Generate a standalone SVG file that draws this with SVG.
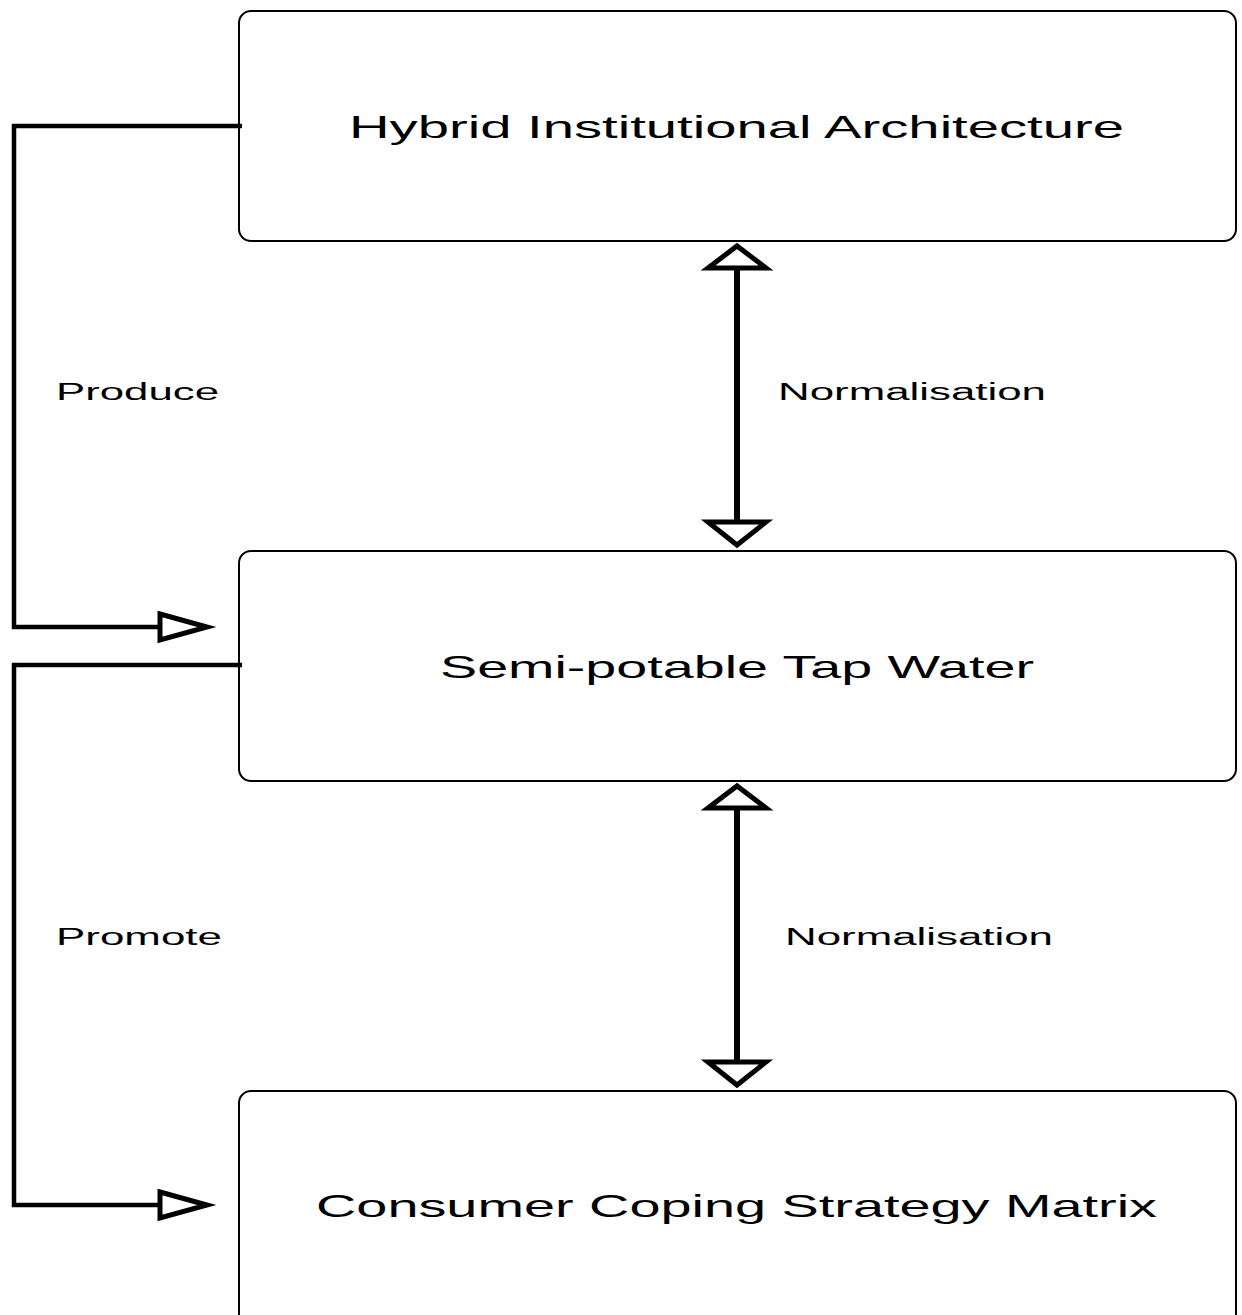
<svg xmlns="http://www.w3.org/2000/svg" width="1242" height="1315" viewBox="0 0 1242 1315">
<style>
.node{fill:#fff;stroke:#000;stroke-width:2}
.t{font-family:"Liberation Sans",Arial,sans-serif;fill:#000}
.big{font-size:32px}
.lbl{font-size:23px}
.c{fill:none;stroke:#000;stroke-width:4.5}
.v{fill:none;stroke:#000;stroke-width:6}
.ah{fill:#fff;stroke:#000;stroke-width:5;stroke-linejoin:miter}
</style>
<rect width="1242" height="1315" fill="#fff"/>
<g id="node-hybrid">
<rect class="node" x="239" y="11" width="997" height="230" rx="12"/>
<text class="t big" x="349" y="138" textLength="775" lengthAdjust="spacingAndGlyphs">Hybrid Institutional Architecture</text>
</g>
<g id="node-tapwater">
<rect class="node" x="239" y="551" width="997" height="230" rx="12"/>
<text class="t big" x="440" y="678" textLength="594" lengthAdjust="spacingAndGlyphs">Semi-potable Tap Water</text>
</g>
<g id="node-coping">
<rect class="node" x="239" y="1091" width="997" height="240" rx="12"/>
<text class="t big" x="316" y="1217" textLength="841" lengthAdjust="spacingAndGlyphs">Consumer Coping Strategy Matrix</text>
</g>
<g id="connectors">
<polyline class="c" points="242,126 14,126 14,627 160,627"/>
<polygon class="ah" points="160,614 207,627 160,640"/>
<text class="t lbl" x="56" y="400" textLength="163" lengthAdjust="spacingAndGlyphs">Produce</text>
<polyline class="c" points="242,665 14,665 14,1205 160,1205"/>
<polygon class="ah" points="160,1192 207,1205 160,1218"/>
<text class="t lbl" x="56" y="945" textLength="166" lengthAdjust="spacingAndGlyphs">Promote</text>
<line class="v" x1="737" y1="268" x2="737" y2="522"/>
<polygon class="ah" points="708,268 737,246 766,268"/>
<polygon class="ah" points="708,522 737,545 766,522"/>
<text class="t lbl" x="778" y="400" textLength="268" lengthAdjust="spacingAndGlyphs">Normalisation</text>
<line class="v" x1="737" y1="808" x2="737" y2="1062"/>
<polygon class="ah" points="708,808 737,786 766,808"/>
<polygon class="ah" points="708,1062 737,1085 766,1062"/>
<text class="t lbl" x="785" y="945" textLength="268" lengthAdjust="spacingAndGlyphs">Normalisation</text>
</g>
</svg>
